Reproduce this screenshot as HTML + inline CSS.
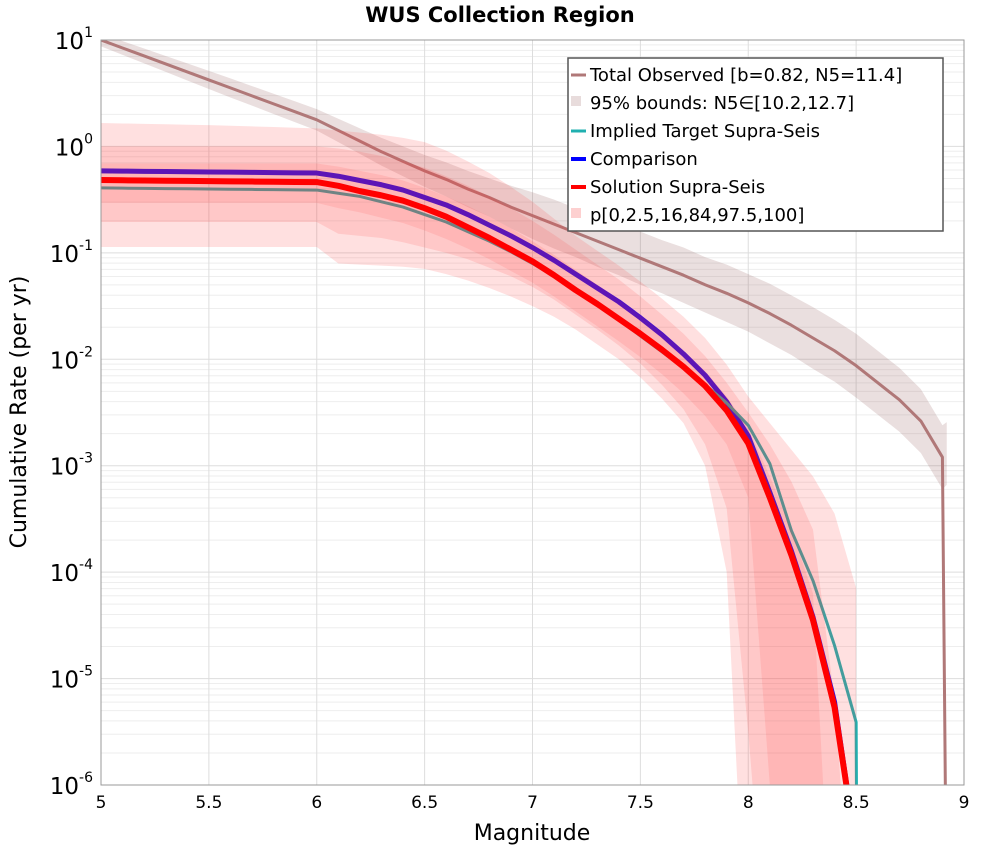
<!DOCTYPE html>
<html><head><meta charset="utf-8"><style>
html,body{margin:0;background:#fff;overflow:hidden;width:1000px;height:850px;}
svg{display:block;font-family:"DejaVu Sans","Liberation Sans",sans-serif;}
</style></head><body>
<svg id="chart" width="1000" height="850" viewBox="0 0 1000 850">
<defs><clipPath id="clip"><rect x="101" y="40" width="863" height="745"/></clipPath></defs>
<rect x="0" y="0" width="1000" height="850" fill="#fff"/>
<g id="grid"></g>
<g id="plot" clip-path="url(#clip)"></g>
<rect x="101" y="40" width="863" height="745" fill="none" stroke="#999" stroke-width="1"/>
<g id="axes"></g>
<text x="500" y="22" text-anchor="middle" font-size="21" font-weight="bold">WUS Collection Region</text>
<text x="532" y="840" text-anchor="middle" font-size="22">Magnitude</text>
<text transform="translate(26,412) rotate(-90)" text-anchor="middle" font-size="22">Cumulative Rate (per yr)</text>
<g>
<rect x="568" y="58" width="375" height="173" fill="#fff" stroke="#555" stroke-width="1.5"/>
<g><line x1="571" y1="75" x2="586" y2="75" stroke="#b07878" stroke-width="3"/><text x="590" y="81" font-size="18">Total Observed [b=0.82, N5=11.4]</text></g>
<g><rect x="571" y="96" width="10" height="10" fill="#e8dcdc"/><text x="590" y="109" font-size="18">95% bounds: N5∈[10.2,12.7]</text></g>
<g><line x1="571" y1="131" x2="586" y2="131" stroke="#20b0b0" stroke-width="3"/><text x="590" y="137" font-size="18">Implied Target Supra-Seis</text></g>
<g><line x1="571" y1="159" x2="586" y2="159" stroke="#0000ff" stroke-width="4"/><text x="590" y="165" font-size="18">Comparison</text></g>
<g><line x1="571" y1="187" x2="586" y2="187" stroke="#ff0000" stroke-width="4"/><text x="590" y="193" font-size="18">Solution Supra-Seis</text></g>
<g><rect x="571" y="208" width="10" height="10" fill="#fdd0d0"/><text x="590" y="221" font-size="18">p[0,2.5,16,84,97.5,100]</text></g>
</g>
</svg>
<script>
// log10 rates
const mags=[5.0,5.1,5.2,5.3,5.4,5.5,5.6,5.7,5.8,5.9,6.0,6.1,6.2,6.3,6.4,6.5,6.6,6.7,6.8,6.9,7.0,7.1,7.2,7.3,7.4,7.5,7.6,7.7,7.8,7.9,8.0,8.1,8.2,8.3,8.4,8.5];
const solutionLog=[-0.316,-0.318,-0.32,-0.322,-0.324,-0.326,-0.328,-0.33,-0.332,-0.334,-0.335,-0.37,-0.42,-0.46,-0.51,-0.58,-0.66,-0.76,-0.86,-0.97,-1.08,-1.21,-1.35,-1.48,-1.62,-1.76,-1.91,-2.07,-2.25,-2.48,-2.79,-3.30,-3.84,-4.45,-5.27,-6.6];
const comparisonLog=[-0.23,-0.232,-0.234,-0.236,-0.238,-0.24,-0.242,-0.244,-0.246,-0.248,-0.25,-0.28,-0.32,-0.36,-0.41,-0.48,-0.55,-0.64,-0.74,-0.84,-0.95,-1.07,-1.20,-1.33,-1.46,-1.61,-1.77,-1.95,-2.15,-2.40,-2.72,-3.25,-3.80,-4.42,-5.22,-6.6];
const targetMags=[5.0,5.1,5.2,5.3,5.4,5.5,5.6,5.7,5.8,5.9,6.0,6.1,6.2,6.3,6.4,6.5,6.6,6.7,6.8,6.9,7.0,7.1,7.2,7.3,7.4,7.5,7.6,7.7,7.8,7.9,8.0,8.1,8.2,8.3,8.4,8.5,8.505];
const targetLog=[-0.39,-0.392,-0.394,-0.396,-0.398,-0.40,-0.402,-0.404,-0.406,-0.408,-0.41,-0.44,-0.47,-0.52,-0.57,-0.64,-0.71,-0.80,-0.89,-0.99,-1.10,-1.22,-1.35,-1.49,-1.63,-1.78,-1.93,-2.08,-2.24,-2.41,-2.62,-2.98,-3.61,-4.08,-4.69,-5.41,-7.5];
const outerUp=[0.22,0.216,0.212,0.208,0.204,0.2,0.194,0.188,0.182,0.176,0.17,0.15,0.13,0.11,0.08,0.04,-0.04,-0.14,-0.25,-0.38,-0.52,-0.68,-0.84,-0.98,-1.12,-1.27,-1.43,-1.60,-1.80,-2.05,-2.35,-2.6,-2.85,-3.1,-3.45,-4.15];
const outerLow=[-0.945,-0.945,-0.945,-0.945,-0.945,-0.945,-0.945,-0.945,-0.945,-0.945,-0.945,-1.10,-1.11,-1.12,-1.13,-1.15,-1.2,-1.26,-1.33,-1.41,-1.5,-1.6,-1.72,-1.86,-2.0,-2.17,-2.37,-2.6,-3.0,-4.0,-8,-8,-8,-8,-8,-8];
const midUp=[0,0,0,0,0,0,0,0,0,0,0,-0.02,-0.05,-0.09,-0.14,-0.2,-0.28,-0.37,-0.47,-0.58,-0.70,-0.83,-0.97,-1.11,-1.25,-1.41,-1.58,-1.76,-1.97,-2.22,-2.5,-2.8,-3.15,-3.6,-5.2,-8];
const midLow=[-0.71,-0.71,-0.71,-0.71,-0.71,-0.71,-0.71,-0.71,-0.71,-0.71,-0.71,-0.82,-0.84,-0.86,-0.90,-0.95,-1.0,-1.06,-1.14,-1.22,-1.32,-1.44,-1.58,-1.72,-1.87,-2.04,-2.24,-2.47,-2.8,-3.4,-5.5,-8,-8,-8,-8,-8];
const innerUp=[-0.16,-0.16,-0.16,-0.16,-0.16,-0.16,-0.16,-0.16,-0.16,-0.16,-0.16,-0.19,-0.23,-0.27,-0.32,-0.39,-0.47,-0.56,-0.66,-0.77,-0.89,-1.02,-1.16,-1.30,-1.44,-1.59,-1.75,-1.92,-2.11,-2.35,-2.65,-3.1,-3.6,-4.2,-8,-8];
const innerLow=[-0.53,-0.53,-0.53,-0.53,-0.53,-0.53,-0.53,-0.53,-0.53,-0.53,-0.53,-0.58,-0.62,-0.67,-0.72,-0.79,-0.87,-0.96,-1.06,-1.17,-1.28,-1.41,-1.55,-1.69,-1.83,-1.98,-2.14,-2.32,-2.53,-2.8,-3.3,-6,-8,-8,-8,-8];
const obsMags=[5.0,5.1,5.2,5.3,5.4,5.5,5.6,5.7,5.8,5.9,6.0,6.1,6.2,6.3,6.4,6.5,6.6,6.7,6.8,6.9,7.0,7.1,7.2,7.3,7.4,7.5,7.6,7.7,7.8,7.9,8.0,8.1,8.2,8.3,8.4,8.5,8.6,8.7,8.8,8.9,8.92];
const observedLog=[1.0,0.925,0.85,0.775,0.70,0.625,0.55,0.475,0.40,0.325,0.25,0.15,0.05,-0.05,-0.14,-0.23,-0.31,-0.40,-0.48,-0.57,-0.65,-0.73,-0.81,-0.89,-0.97,-1.05,-1.13,-1.21,-1.30,-1.38,-1.47,-1.57,-1.68,-1.80,-1.92,-2.06,-2.22,-2.38,-2.58,-2.92,-7.5];
const obsBandHalf=[0.06,0.065,0.07,0.075,0.08,0.085,0.09,0.092,0.095,0.098,0.1,0.11,0.12,0.13,0.14,0.15,0.16,0.17,0.18,0.2,0.22,0.23,0.23,0.24,0.24,0.25,0.25,0.26,0.26,0.27,0.27,0.28,0.28,0.29,0.29,0.3,0.3,0.3,0.3,0.3,0.3];
const xTicks=[5,5.5,6,6.5,7,7.5,8,8.5,9];
const xTickLabels=["5","5.5","6","6.5","7","7.5","8","8.5","9"];
const yDecades=[1,0,-1,-2,-3,-4,-5,-6];

const X0=101,X1=964,Y0=40,Y1=785;
const xs=m=>X0+(m-5)/4*(X1-X0);
const ys=l=>Y0+(1-l)/7*(Y1-Y0);
const NS="http://www.w3.org/2000/svg";
function mk(tag,attrs,parent){const e=document.createElementNS(NS,tag);for(const k in attrs)e.setAttribute(k,attrs[k]);parent.appendChild(e);return e;}
const grid=document.getElementById('grid'),plot=document.getElementById('plot'),axes=document.getElementById('axes');

for(let d=1;d>-6;d--){for(let k=2;k<=9;k++){const y=ys(d-1+Math.log10(k));
 const l=mk('line',{x1:X0,x2:X1,y1:y,y2:y,stroke:'#eeeeee','stroke-width':1},grid);
 
 }}
yDecades.forEach(d=>{const y=ys(d);
 const l=mk('line',{x1:X0,x2:X1,y1:y,y2:y,stroke:'#dddddd','stroke-width':1},grid);
 
 
 const t=mk('text',{x:X0-8,y:y+9,'text-anchor':'end','font-size':23},axes);
 
 
 t.textContent='10';
 const s=mk('tspan',{dy:-12,'font-size':14},t);s.textContent=String(d);
});
xTicks.forEach((m,i)=>{const x=xs(m);
 const l=mk('line',{x1:x,x2:x,y1:Y0,y2:Y1,stroke:'#dddddd','stroke-width':1},grid);
 
 
 const t=mk('text',{x:x,y:808,'text-anchor':'middle','font-size':17},axes);
 
 
 t.textContent=xTickLabels[i];
});
function band(mx,up,lo,fill,name){let p='';mx.forEach((m,i)=>p+=(i?'L':'M')+xs(m)+','+ys(up[i]));
 for(let i=mx.length-1;i>=0;i--)p+='L'+xs(mx[i])+','+ys(lo[i]);
 const e=mk('path',{d:p+'Z',fill:fill,stroke:'none'},plot);
 
 }
function line(mx,v,col,w,name){let p='';mx.forEach((m,i)=>p+=(i?'L':'M')+xs(m)+','+ys(v[i]));
 const e=mk('path',{d:p,fill:'none',stroke:col,'stroke-width':w,'stroke-linejoin':'round'},plot);
 
 }
band(obsMags,observedLog.map((v,i)=>i<obsMags.length-1?v+obsBandHalf[i]:-2.59),observedLog.map((v,i)=>i<obsMags.length-1?v-obsBandHalf[i]:-3.18),'rgba(140,80,80,0.18)','observed-95-band');
line(obsMags,observedLog,'#b07878',3,'total-observed-line');
line(mags,comparisonLog,'#0000ff',5,'comparison-line');
line(targetMags,targetLog,'#20b0b0',3,'implied-target-line');
band(mags,outerUp,outerLow,'rgba(255,60,60,0.16)','band-p0-p100');
band(mags,midUp,midLow,'rgba(255,60,60,0.14)','band-p2.5-p97.5');
band(mags,innerUp,innerLow,'rgba(255,60,60,0.12)','band-p16-p84');
line(mags,solutionLog,'#ff0000',6,'solution-line');
</script>
</body></html>
